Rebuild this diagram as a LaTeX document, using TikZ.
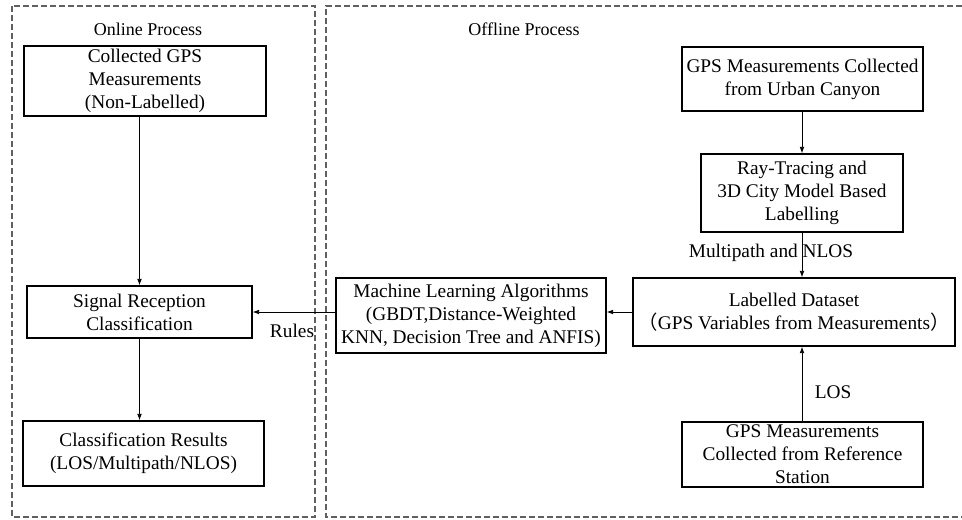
\documentclass[tikz,border=0pt]{standalone}
\usepackage{fontspec}
\setmainfont{Liberation Serif}
\newfontfamily\cjkfont{Noto Sans CJK SC}
\usetikzlibrary{arrows.meta}
\definecolor{framegray}{RGB}{96,96,96}
\begin{document}
\begin{tikzpicture}[x=0.75pt,y=-0.75pt,
  bx/.style={draw=black, line width=0.8pt, align=center, inner sep=1pt,
    font=\fontsize{14.5}{17.25}\selectfont},
  lbl/.style={inner sep=0pt, font=\fontsize{14.5}{17.25}\selectfont},
  ttl/.style={inner sep=0pt, font=\fontsize{13.5}{16}\selectfont},
  arr/.style={draw=black, line width=0.7pt, -{Latex[length=5pt,width=3.6pt]}},
  frame/.style={draw=framegray, line width=0.8pt, dash pattern=on 4.5pt off 2.25pt}]
\useasboundingbox (0,0) rectangle (962,519);
% frames
\draw[frame] (12,6) rectangle (315,517);
\draw[frame] (962,6) -- (326,6) -- (326,517) -- (962,517);
\node[ttl] (on) at (148,29) {Online Process};
\node[ttl] (off) at (524,29) {Offline Process};
% online
\node[bx, minimum width=181.5pt, minimum height=52.5pt] (A) at (145,81)
  {Collected GPS\\Measurements\\(Non-Labelled)};
\node[bx, minimum width=168.75pt, minimum height=39pt] (S) at (139.5,312)
  {Signal Reception\\Classification};
\node[bx, minimum width=180.75pt, minimum height=48.75pt] (C) at (143.5,453.5)
  {Classification Results\\(LOS/Multipath/NLOS)};
% offline
\node[bx, minimum width=202.5pt, minimum height=56.25pt] (ML) at (471,315.5)
  {Machine Learning Algorithms\\(GBDT,Distance-Weighted\\KNN, Decision Tree and ANFIS)};
\node[bx, minimum width=180.75pt, minimum height=48pt] (U) at (802.5,79)
  {GPS Measurements Collected\\from Urban Canyon};
\node[bx, minimum width=151.5pt, minimum height=58.5pt] (R) at (802,193)
  {Ray-Tracing and\\3D City Model Based\\Labelling};
\node[bx, minimum width=241.5pt, minimum height=51pt] (L) at (794,312)
  {Labelled Dataset\\{\cjkfont （}GPS Variables from Measurements{\cjkfont ）}};
\node[bx, minimum width=180.75pt, minimum height=48.75pt] (G) at (802.5,454.5)
  {GPS Measurements\\Collected from Reference\\Station};
% connectors
\draw[arr] (A.south -| S.north) -- (S.north);
\draw[arr] (S.south) -- (C.north -| S.south);
\draw[arr] (U.south -| R.north) -- (R.north);
\draw[arr] (R.south) -- (L.north -| R.south);
\draw[arr] (G.north -| R.south) -- (L.south -| R.south);
\draw[arr] (L.west) -- (ML.east |- L.west);
\draw[arr] (ML.west |- S.east) -- (S.east);
% labels
\node[lbl] (rules) at (292,331) {Rules};
\node[lbl] (mpn) at (771,253) {Multipath and NLOS};
\node[lbl] (los) at (833,392) {LOS};
\end{tikzpicture}
\end{document}
